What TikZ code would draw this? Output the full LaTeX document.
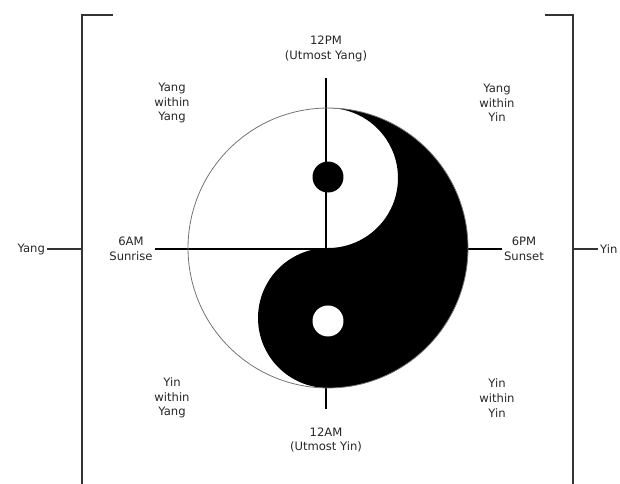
\documentclass[tikz,border=0pt]{standalone}
\usepackage{fontspec}
\setmainfont{DejaVu Sans}
\usepackage{tikz}
\usetikzlibrary{positioning, calc}

\begin{document}
\begin{tikzpicture}[
  x=0.02cm, y=-0.02cm,
  font=\fontsize{6.6}{8.4}\selectfont,
  lbl/.style={
    align=center,
    inner sep=1pt,
    text=black!85
  },
  axis/.style={line width=1.2pt, draw=black},
  bracket/.style={line width=1.1pt, draw=black!80},
  tick/.style={line width=0.8pt, draw=black!80},
  rim/.style={line width=0.45pt, draw=black!55}
]
\useasboundingbox (0,0) rectangle (620,484);

% outer bracket
\coordinate (lbrk) at (82,249);
\coordinate (rbrk) at (573,249);
\draw[bracket] (113,15) -- (82,15) -- (82,490);
\draw[bracket] (545,15) -- (573,15) -- (573,490);

\node[lbl, anchor=east] (yangside) at (47,249) {Yang};
\node[lbl, anchor=west] (yinside) at (598,249) {Yin};
\draw[tick] (yangside.east) -- (lbrk);
\draw[tick] (rbrk) -- (yinside.west);

% hours
\node[lbl] (noon) at (326,49) {12PM\\(Utmost Yang)};
\node[lbl] (midnight) at (326,440) {12AM\\(Utmost Yin)};
\node[lbl] (sunrise) at (131,249) {6AM\\Sunrise};
\node[lbl] (sunset) at (524,249) {6PM\\Sunset};

% quarters
\node[lbl] (yangyang) at (172,103) {Yang\\within\\Yang};
\node[lbl] (yangyin) at (497,103) {Yang\\within\\Yin};
\node[lbl] (yinyang) at (172,398) {Yin\\within\\Yang};
\node[lbl] (yinyin) at (497,398) {Yin\\within\\Yin};

\draw[axis] (sunrise.east) -- (sunset.west);
\draw[axis] ([yshift=-0.28cm]noon.south) -- ([yshift=0.32cm]midnight.north);

% taiji
\coordinate (c) at (328,248);
\fill[black] ($(c)+(0,2.8cm)$) arc[start angle=90, end angle=-90, radius=2.8cm]
  arc[start angle=-90, end angle=-270, radius=1.4cm]
  arc[start angle=-90, end angle=90, radius=1.4cm] -- cycle;
\fill[black] ($(c)+(0,1.42cm)$) circle[radius=0.31cm];
\fill[white] ($(c)+(0,-1.46cm)$) circle[radius=0.31cm];
\draw[rim] (c) circle[radius=2.8cm];

\end{tikzpicture}
\end{document}
